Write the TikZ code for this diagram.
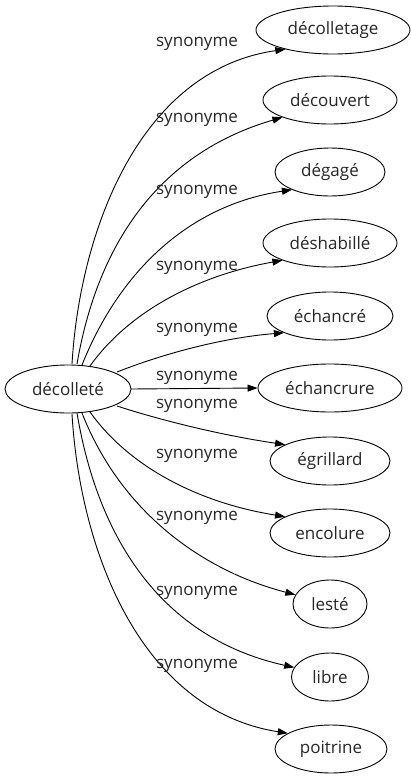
\documentclass[tikz,border=0pt]{standalone}
\usepackage{fontspec}
\setmainfont{Open Sans}
\usetikzlibrary{shapes.geometric,arrows.meta}
\begin{document}
\begin{tikzpicture}[x=1pt,y=-1pt,
  every node/.style={font=\fontsize{17}{20}\selectfont, text=black!85},
  term/.style={draw=black, ellipse, inner sep=0pt, minimum height=48pt, line width=0.9pt},
  lbl/.style={inner sep=0pt},
  syn/.style={draw=black, line width=0.9pt, -{Triangle[length=10pt,width=7pt]}}]
\useasboundingbox (0,0) rectangle (410,779);
\node[term, minimum width=126pt] (d) at (68,389) {décolleté};
\node[term, minimum width=154pt] (n1) at (333,30) {décolletage};
\node[term, minimum width=134pt] (n2) at (330,100) {découvert};
\node[term, minimum width=110pt] (n3) at (330,172) {dégagé};
\node[term, minimum width=134pt] (n4) at (330,243) {déshabillé};
\node[term, minimum width=126pt] (n5) at (330,316) {échancré};
\node[term, minimum width=144pt] (n6) at (330,388) {échancrure};
\node[term, minimum width=120pt] (n7) at (330,461) {égrillard};
\node[term, minimum width=120pt] (n8) at (330,533) {encolure};
\node[term, minimum width=74pt] (n9) at (330,604) {lesté};
\node[term, minimum width=77pt] (n10) at (330,677) {libre};
\node[term, minimum width=112pt] (n11) at (331,749) {poitrine};
\coordinate (s1) at (72,364);
\coordinate (s2) at (77,364);
\coordinate (s3) at (82,365);
\coordinate (s4) at (90,366);
\coordinate (s5) at (117,372);
\coordinate (s6) at (131,389);
\coordinate (s7) at (117,406);
\coordinate (s8) at (90,412);
\coordinate (s9) at (82,413);
\coordinate (s10) at (77,413);
\coordinate (s11) at (72,414);
\draw[syn] (s1) .. controls (80,230) and (140,70) .. (n1.202);
\draw[syn] (s2) .. controls (100,230) and (170,150) .. (n2.200);
\draw[syn] (s3) .. controls (120,270) and (190,205) .. (n3.205);
\draw[syn] (s4) .. controls (130,310) and (200,275) .. (n4.200);
\draw[syn] (s5) .. controls (160,355) and (220,338) .. (n5.200);
\draw[syn] (s6) -- (n6.west);
\draw[syn] (s7) .. controls (160,420) and (220,435) .. (n7.160);
\draw[syn] (s8) .. controls (130,468) and (200,503) .. (n8.160);
\draw[syn] (s9) .. controls (120,510) and (200,570) .. (n9.165);
\draw[syn] (s10) .. controls (100,550) and (170,640) .. (n10.165);
\draw[syn] (s11) .. controls (80,550) and (140,710) .. (n11.160);
\node[lbl] (l1) at (197,44) {synonyme};
\node[lbl] (l2) at (197,120) {synonyme};
\node[lbl] (l3) at (197,192) {synonyme};
\node[lbl] (l4) at (197,268) {synonyme};
\node[lbl] (l5) at (197,330) {synonyme};
\node[lbl] (l6) at (197,378) {synonyme};
\node[lbl] (l7) at (197,406) {synonyme};
\node[lbl] (l8) at (197,456) {synonyme};
\node[lbl] (l9) at (197,518) {synonyme};
\node[lbl] (l10) at (197,593) {synonyme};
\node[lbl] (l11) at (197,666) {synonyme};
\end{tikzpicture}
\end{document}
